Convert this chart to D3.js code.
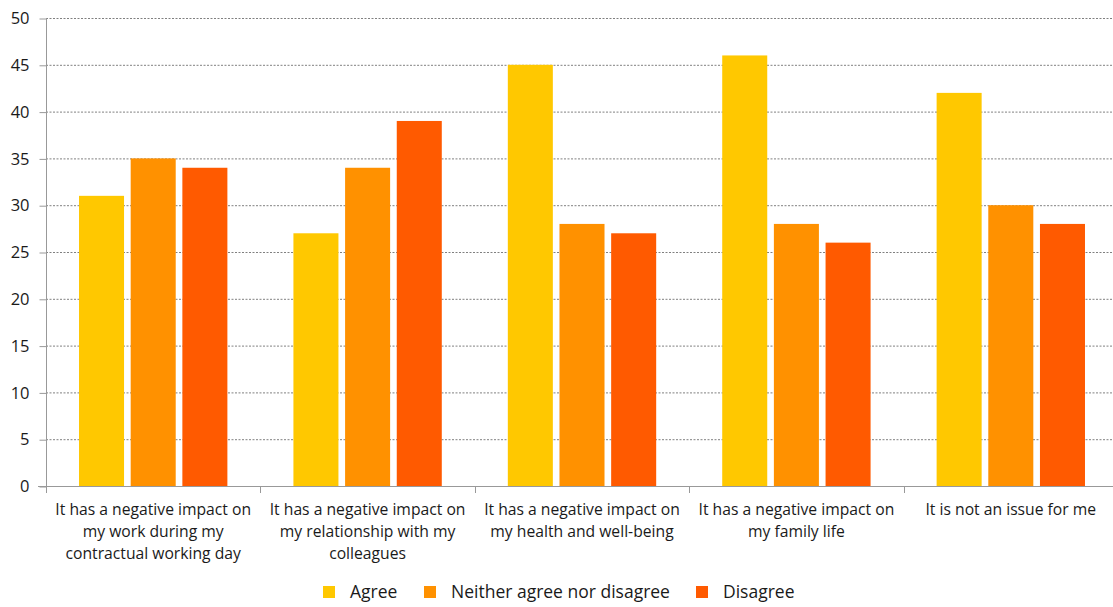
<!DOCTYPE html>
<html><head><meta charset="utf-8">
<script src="https://cdn.jsdelivr.net/npm/d3@7"></script>
<style>body{margin:0;background:#fff}svg{display:block}text{font-family:"Open Sans","Noto Sans",sans-serif;fill:#1a1a1a}</style>
</head><body><svg id="c" width="1113" height="607"></svg>
<script>
const categories = [
  ["It has a negative impact on","my work during my","contractual working day"],
  ["It has a negative impact on","my relationship with my","colleagues"],
  ["It has a negative impact on","my health and well-being"],
  ["It has a negative impact on","my family life"],
  ["It is not an issue for me"]
];
const seriesNames = ["Agree","Neither agree nor disagree","Disagree"];
const agree = [31,27,45,46,42];
const neither = [35,34,28,28,30];
const disagree = [34,39,27,26,28];
const yTicks = [0,5,10,15,20,25,30,35,40,45,50];
const colors = ["#FFC800","#FF9100","#FF5A00"];
const series = [agree, neither, disagree];

const svg = d3.select("#c");
const m = {l:46, t:18, r:1118, b:486};
const x = d3.scaleBand().domain(d3.range(categories.length)).range([m.l, m.r]).paddingInner(0).paddingOuter(0);
const y = d3.scaleLinear().domain([0,50]).range([m.b, m.t]);
const bw = x.bandwidth();
const barW = bw*0.21, gap = bw*0.031;
const groupW = barW*3 + gap*2;

// gridlines
svg.append("g").selectAll("line").data(yTicks.filter(d=>d>0)).join("line")
  .attr("x1", m.l).attr("x2", 1113).attr("y1", d=>y(d)+0.5).attr("y2", d=>y(d)+0.5)
  .attr("stroke","#808080").attr("stroke-dasharray","2,1.5").attr("stroke-width",1);

// bars
series.forEach((vals, si) => {
  svg.append("g").selectAll("rect").data(vals).join("rect")
    .attr("x", (d,i) => x(i) + (bw-groupW)/2 + si*(barW+gap))
    .attr("y", d => y(d))
    .attr("width", barW)
    .attr("height", d => y(0)-y(d))
    .attr("fill", colors[si]);
});

// y axis
const ya = svg.append("g").attr("transform",`translate(${m.l+0.5},0)`)
  .call(d3.axisLeft(y).tickValues(yTicks).tickSize(8).tickPadding(6));
ya.select(".domain").attr("stroke","#999").attr("d",`M0,${m.b}V${m.t}`);
ya.selectAll(".tick line").attr("stroke","#999").attr("x2",-7).attr("transform","translate(0,0.5)");
ya.selectAll("text").style("font-size","16.5px").attr("fill","#1a1a1a").attr("dy","0.35em").attr("x",-17);

// x axis line and ticks
svg.append("line").attr("x1",m.l-8).attr("x2",1113).attr("y1",m.b+0.5).attr("y2",m.b+0.5).attr("stroke","#999");
svg.append("g").selectAll("line").data(d3.range(categories.length)).join("line")
  .attr("x1",d=>Math.round(x(d))+0.5).attr("x2",d=>Math.round(x(d))+0.5)
  .attr("y1",m.b).attr("y2",m.b+7).attr("stroke","#999");

// category labels
categories.forEach((lines,i)=>{
  const t = svg.append("text").attr("text-anchor","middle").style("font-size","15.7px");
  lines.forEach((ln,j)=>{
    t.append("tspan").attr("x", x(i)+bw/2).attr("y", 515 + j*22).text(ln);
  });
});

// legend
const legX = [323, 424, 696];
const lg = svg.append("g");
seriesNames.forEach((n,i)=>{
  lg.append("rect").attr("x",legX[i]).attr("y",586).attr("width",12).attr("height",12).attr("fill",colors[i]);
  lg.append("text").attr("x",legX[i]+27).attr("y",598).style("font-size","17.5px").text(n);
});
</script></body></html>
